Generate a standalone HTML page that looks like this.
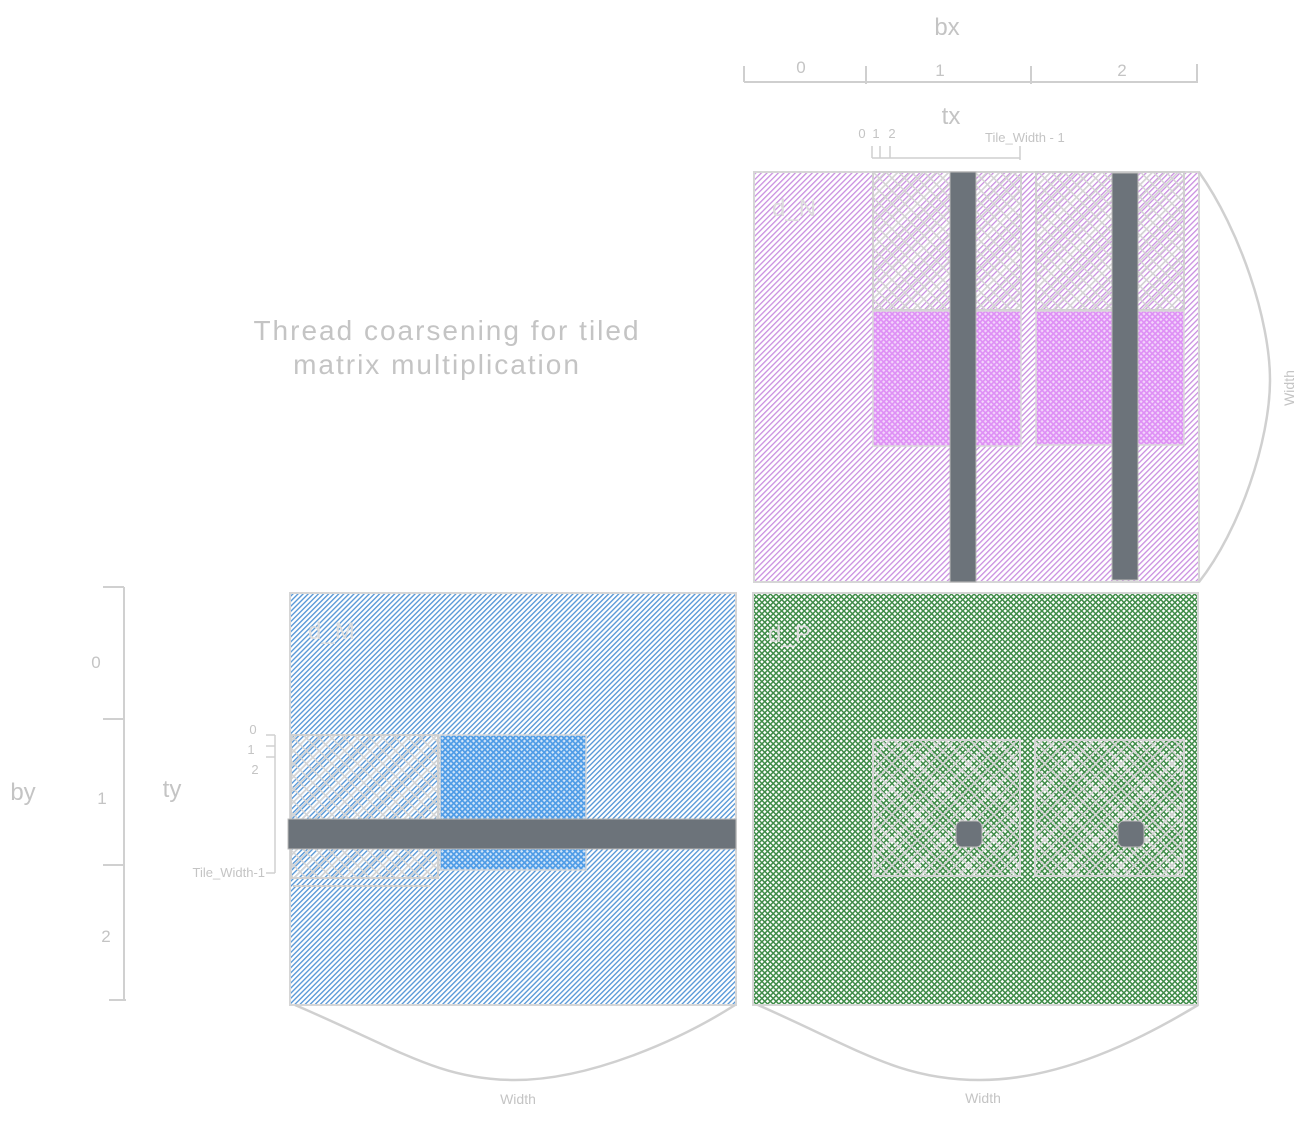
<!DOCTYPE html>
<html><head><meta charset="utf-8"><style>
html,body{margin:0;padding:0;background:#fff;}
svg{display:block;font-family:"Liberation Sans",sans-serif;}
text{fill:#c4c4c4;}
</style></head><body>
<svg width="1313" height="1121" viewBox="0 0 1313 1121">
<defs>
 <pattern id="pPurple" width="4" height="4" patternUnits="userSpaceOnUse" patternTransform="rotate(-45)">
  <rect width="4" height="4" fill="#fff"/><rect width="4" height="1.3" fill="#c98ee0"/></pattern>
 <pattern id="pBlue" width="3.6" height="3.6" patternUnits="userSpaceOnUse" patternTransform="rotate(-45)">
  <rect width="4" height="4" fill="#fff"/><rect width="4" height="1.4" fill="#5b9ad8"/></pattern>
 <pattern id="pGreen" width="4" height="4" patternUnits="userSpaceOnUse" patternTransform="rotate(-45)">
  <rect width="4" height="4" fill="#fff"/><rect width="4" height="1.5" fill="#3f8c48"/><rect width="1.5" height="4" fill="#3f8c48"/></pattern>
 <pattern id="pMag" width="4" height="4" patternUnits="userSpaceOnUse" patternTransform="rotate(-45)">
  <rect width="4" height="4" fill="#f3d6fb"/><rect width="4" height="1.7" fill="#de8ff5"/><rect width="1.7" height="4" fill="#de8ff5"/></pattern>
 <pattern id="pBlue2" width="4" height="4" patternUnits="userSpaceOnUse" patternTransform="rotate(-45)">
  <rect width="4" height="4" fill="#d4e6f9"/><rect width="4" height="1.7" fill="#4d9be6"/><rect width="1.7" height="4" fill="#4d9be6"/></pattern>
 <pattern id="pGray" width="9" height="9" patternUnits="userSpaceOnUse" patternTransform="rotate(-45)">
  <rect width="9" height="1.5" fill="#d4d4d4"/><rect width="1.5" height="9" fill="#d4d4d4"/></pattern>
</defs>

<!-- title -->
<text x="447" y="340" font-size="28" letter-spacing="2" text-anchor="middle">Thread coarsening for tiled</text>
<text x="437" y="374" font-size="28" letter-spacing="2" text-anchor="middle">matrix multiplication</text>

<!-- bx axis -->
<g stroke="#cfcfcf" stroke-width="2" fill="none">
 <path d="M744 82 H1198 M744 66 V82 M866 66 V84 M1031 66 V84 M1197 64 V82"/>
</g>
<text x="947" y="35" font-size="24" text-anchor="middle">bx</text>
<text x="801" y="73" font-size="17" text-anchor="middle">0</text>
<text x="940" y="76" font-size="17" text-anchor="middle">1</text>
<text x="1122" y="76" font-size="17" text-anchor="middle">2</text>
<text x="951" y="124" font-size="24" text-anchor="middle">tx</text>
<g stroke="#cfcfcf" stroke-width="1.5" fill="none">
 <path d="M872 158 H1020 M872 146 V158 M880 146 V158 M890 146 V158 M1020 146 V160"/>
</g>
<text x="862" y="138" font-size="13" text-anchor="middle">0</text>
<text x="876" y="138" font-size="13" text-anchor="middle">1</text>
<text x="892" y="138" font-size="13" text-anchor="middle">2</text>
<text x="985" y="142" font-size="13">Tile_Width - 1</text>

<!-- d_N -->
<g>
 <rect x="754" y="172" width="445" height="410" fill="url(#pPurple)" stroke="#d6d6d6" stroke-width="2"/>
 <rect x="873" y="172" width="148" height="138" fill="url(#pGray)" stroke="#d0d0d0" stroke-width="2"/>
 <rect x="1036" y="172" width="148" height="138" fill="url(#pGray)" stroke="#d0d0d0" stroke-width="2"/>
 <rect x="873" y="311" width="148" height="135" fill="url(#pMag)" stroke="#d8d8d8" stroke-width="1.5"/>
 <rect x="1036" y="311" width="148" height="134" fill="url(#pMag)" stroke="#d8d8d8" stroke-width="1.5"/>
 <rect x="950" y="172" width="26" height="410" fill="#6c737a" stroke="#bbb"/>
 <rect x="1112" y="173" width="26" height="407" fill="#6c737a" stroke="#bbb"/>
 <text x="772" y="216" font-size="24" style="fill:#dcdcdc">d_N</text>
</g>
<path d="M1199 172 C1240 230,1270 320,1270 380 S1240 530,1199 582" fill="none" stroke="#d0d0d0" stroke-width="2.5"/>
<text x="1294" y="388" font-size="14" text-anchor="middle" transform="rotate(-90 1294 388)">Width</text>

<!-- by axis -->
<g stroke="#d0d0d0" stroke-width="2" fill="none">
 <path d="M124 587 V1000 M103 587 H124 M103 719 H124 M103 865 H124 M109 1000 H126"/>
</g>
<text x="96" y="668" font-size="17" text-anchor="middle">0</text>
<text x="102" y="804" font-size="17" text-anchor="middle">1</text>
<text x="106" y="942" font-size="17" text-anchor="middle">2</text>
<text x="23" y="800" font-size="24" text-anchor="middle">by</text>
<text x="172" y="797" font-size="24" text-anchor="middle">ty</text>
<g stroke="#d0d0d0" stroke-width="1.5" fill="none">
 <path d="M275 735 V873 M266 735 H275 M266 746 H275 M266 757 H275 M266 873 H275"/>
</g>
<text x="253" y="734" font-size="13" text-anchor="middle">0</text>
<text x="251" y="754" font-size="13" text-anchor="middle">1</text>
<text x="255" y="774" font-size="13" text-anchor="middle">2</text>
<text x="265" y="877" font-size="13" text-anchor="end">Tile_Width-1</text>

<!-- d_M -->
<g>
 <rect x="290" y="593" width="446" height="412" fill="url(#pBlue)" stroke="#d6d6d6" stroke-width="2"/>
 <rect x="291" y="735" width="147" height="143" fill="url(#pGray)" stroke="#d0d0d0" stroke-width="2"/>
 <rect x="440" y="735" width="146" height="135" fill="url(#pBlue2)" stroke="#d8d8d8" stroke-width="1.5"/>
 <path d="M293 886 H430" stroke="#d0d0d0" stroke-width="2"/>
 <rect x="288" y="819" width="448" height="30" fill="#6c737a" stroke="#bbb"/>
 <text x="308" y="639" font-size="24" style="fill:#dcdcdc">d_M</text>
</g>
<path d="M295 1005 C400 1050,440 1080,515 1080 S680 1040,735 1005" fill="none" stroke="#d0d0d0" stroke-width="2.5"/>
<text x="518" y="1104" font-size="14" text-anchor="middle">Width</text>

<!-- d_P -->
<g>
 <rect x="753" y="593" width="445" height="412" fill="url(#pGreen)" stroke="#d6d6d6" stroke-width="2"/>
 <rect x="873" y="740" width="147" height="136" fill="url(#pGray)" stroke="#d4d4d4" stroke-width="2"/>
 <rect x="1035" y="740" width="149" height="136" fill="url(#pGray)" stroke="#d4d4d4" stroke-width="2"/>
 <rect x="956" y="821" width="26" height="26" rx="6" fill="#6c737a" stroke="#bbb"/>
 <rect x="1118" y="821" width="26" height="26" rx="6" fill="#6c737a" stroke="#bbb"/>
 <text x="768" y="642" font-size="24" style="fill:#dcdcdc">d_P</text>
</g>
<path d="M758 1005 C860 1050,900 1080,980 1080 S1140 1040,1198 1005" fill="none" stroke="#d0d0d0" stroke-width="2.5"/>
<text x="983" y="1103" font-size="14" text-anchor="middle">Width</text>
</svg>
</body></html>
